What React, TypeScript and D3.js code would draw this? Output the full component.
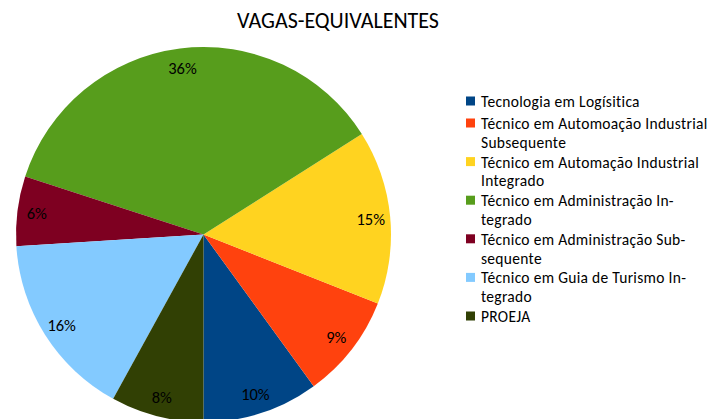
import React from "react";
import * as d3 from "d3";

const categories = [
  "Tecnologia em Logísitica",
  "Técnico em Automoação Industrial Subsequente",
  "Técnico em Automação Industrial Integrado",
  "Técnico em Administração Integrado",
  "Técnico em Administração Subsequente",
  "Técnico em Guia de Turismo Integrado",
  "PROEJA",
];
const legendLines = [
  ["Tecnologia em Logísitica"],
  ["Técnico em Automoação Industrial", "Subsequente"],
  ["Técnico em Automação Industrial", "Integrado"],
  ["Técnico em Administração In-", "tegrado"],
  ["Técnico em Administração Sub-", "sequente"],
  ["Técnico em Guia de Turismo In-", "tegrado"],
  ["PROEJA"],
];
const values = [10, 9, 15, 36, 6, 16, 8];
const colors = ["#004586", "#ff420e", "#ffd320", "#579d1c", "#7e0021", "#83caff", "#314004"];
const title = "VAGAS-EQUIVALENTES";

const W = 717;
const H = 419;
const FONT = "Carlito, Calibri, Lato, 'Open Sans', sans-serif";

export default function App() {
  const cx = 203.5;
  const cy = 234.5;
  const r = 187.5;
  const pie = d3
    .pie<number>()
    .sort(null)
    .startAngle(Math.PI)
    .endAngle(-Math.PI)
    .value((d) => d);
  const arcs = pie(values);
  const arc = d3.arc<d3.PieArcDatum<number>>().innerRadius(0).outerRadius(r);
  const labelArc = d3.arc<d3.PieArcDatum<number>>().innerRadius(168).outerRadius(168);
  const total = d3.sum(values);

  const lineH = 18.8;
  const entryGap = 19.8;
  let y = 101;
  const legendRows: { lines: string[]; y: number; i: number }[] = [];
  legendLines.forEach((lines, i) => {
    legendRows.push({ lines, y, i });
    y += lineH * (lines.length - 1) + entryGap + (lines.length > 1 ? 0 : 2.2);
  });

  return (
    <svg
      width={W}
      height={H}
      style={{ position: "absolute", left: 0, top: 0, background: "#fff" }}
      fontFamily={FONT}
    >
      <rect width={W} height={H} fill="#fff" />
      <text x={338} y={20} textAnchor="middle" dominantBaseline="central" fontSize={22} fill="#000">
        {title}
      </text>
      <g transform={`translate(${cx},${cy})`}>
        {arcs.map((a, i) => (
          <path key={i} d={arc(a) || ""} fill={colors[i]} />
        ))}
        {arcs.map((a, i) => {
          const [lx, ly] = labelArc.centroid(a);
          return (
            <text
              key={"l" + i}
              x={lx}
              y={ly}
              textAnchor="middle"
              dominantBaseline="central"
              fontSize={16.5}
              fill="#000"
            >
              {Math.round((values[i] / total) * 100) + "%"}
            </text>
          );
        })}
      </g>
      <g>
        {legendRows.map((row) => (
          <g key={row.i}>
            <rect x={466} y={row.y - 4.5} width={9} height={9} fill={colors[row.i]} />
            <text
              x={481}
              y={row.y}
              dominantBaseline="central"
              fontSize={15.5}
              letterSpacing={0.3}
              fill="#000"
            >
              {row.lines.map((ln, j) => (
                <tspan key={j} x={481} dy={j === 0 ? 0 : lineH}>
                  {ln}
                </tspan>
              ))}
            </text>
          </g>
        ))}
      </g>
    </svg>
  );
}
